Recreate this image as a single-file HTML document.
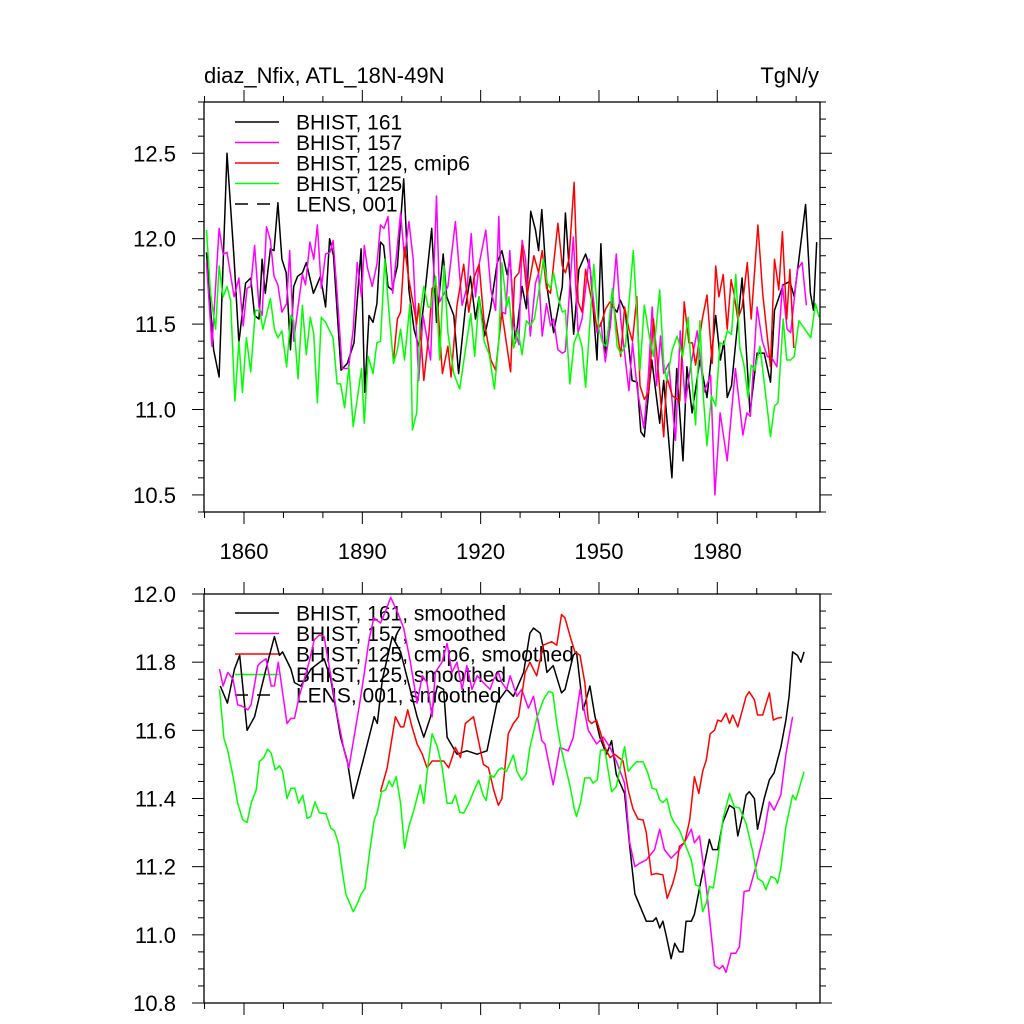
<!DOCTYPE html>
<html><head><meta charset="utf-8"><style>
html,body{margin:0;padding:0;background:#fff;}
svg{display:block;font-family:"Liberation Sans",Arial,sans-serif;}
</style></head><body>
<svg id="chart" width="1024" height="1024" viewBox="0 0 1024 1024" xmlns="http://www.w3.org/2000/svg">
<rect x="0" y="0" width="1024" height="1024" fill="#fff"/>
<text x="204" y="83" font-size="22">diaz_Nfix, ATL_18N-49N</text>
<text x="819" y="83" font-size="22" text-anchor="end">TgN/y</text>
<g id="top"></g>
<g id="bot"></g>
</svg>
<script>
// ---------- data: top panel (annual) ----------
const topBlackYears=[1850.5,1852.3,1853.7,1855.7,1857.5,1858.7,1860.4,1861.7,1862.7,1863.8,1864.6,1865.4,1866.7,1867.6,1868.6,1869.6,1870.7,1871.8,1872.6,1873.6,1874.8,1875.8,1877.6,1879.4,1880.7,1881.7,1882.7,1884.6,1886.2,1887.9,1889.7,1890.6,1891.7,1892.7,1893.7,1894.6,1895.4,1896.5,1897.5,1898.9,1900.5,1901.8,1903.1,1904.3,1905.6,1907.6,1908.8,1910.5,1911.4,1913.2,1914.4,1916.1,1917.4,1918.7,1919.6,1921.0,1922.5,1924.2,1925.4,1926.7,1927.5,1928.8,1930.5,1931.6,1932.7,1933.9,1934.7,1935.5,1936.8,1938.5,1940.7,1941.5,1943.6,1944.9,1946.6,1947.8,1949.5,1950.5,1951.6,1953.2,1954.6,1955.4,1956.7,1958.4,1959.7,1960.6,1961.5,1963.4,1965.4,1966.4,1968.5,1969.7,1971.3,1972.3,1973.6,1975.6,1977.4,1979.6,1980.8,1981.7,1982.5,1983.6,1986.3,1988.3,1990.1,1991.9,1993.5,1994.5,1996.7,1998.4,1999.5,2000.7,2002.4,2003.6,2004.4,2005.2];
const topBlackVals=[11.92,11.35,11.19,12.5,11.88,11.39,11.74,11.77,11.55,11.53,11.88,11.68,11.94,11.93,12.21,11.88,11.80,11.35,11.72,11.78,11.80,11.86,11.68,11.78,11.60,12.0,11.90,11.23,11.27,11.39,11.94,11.10,11.55,11.51,11.62,11.98,11.96,11.72,11.70,11.84,12.35,11.70,11.47,11.37,11.62,12.06,11.51,11.91,11.66,11.55,11.21,11.59,11.78,11.53,11.66,11.43,11.59,11.86,11.93,11.79,11.88,11.39,11.72,11.59,12.16,12.05,11.93,12.17,11.72,11.45,11.72,12.15,11.44,11.82,11.91,11.82,11.29,11.97,11.33,11.61,11.57,11.64,11.57,11.17,11.16,10.87,10.84,11.29,10.92,11.17,10.60,11.24,10.70,11.25,10.98,11.29,11.07,11.55,11.29,11.40,11.07,11.14,11.77,10.98,11.33,11.33,11.16,11.58,11.73,11.75,11.66,11.88,12.20,11.68,11.58,11.98];
const topMagentaYears=[1850.5,1851.9,1853.7,1854.7,1855.7,1857.5,1858.7,1859.8,1860.8,1861.7,1862.7,1863.8,1864.6,1865.7,1866.7,1867.6,1868.6,1869.6,1870.8,1871.6,1872.6,1873.7,1874.8,1875.6,1876.7,1877.7,1878.6,1879.6,1880.7,1881.8,1882.6,1883.6,1884.9,1886.5,1887.7,1888.7,1889.8,1890.5,1891.3,1892.5,1893.7,1894.6,1895.5,1896.5,1897.7,1899.7,1900.7,1901.8,1902.9,1904.3,1905.4,1907.3,1908.8,1909.6,1911.7,1913.6,1915.3,1916.6,1917.6,1918.7,1919.6,1921.3,1922.6,1923.8,1924.6,1925.4,1926.3,1927.4,1928.4,1929.7,1930.5,1931.4,1932.6,1933.9,1934.7,1935.6,1936.7,1937.7,1938.5,1939.6,1940.7,1941.5,1943.5,1944.7,1945.7,1947.5,1949.5,1950.5,1951.6,1952.9,1954.4,1955.5,1957.6,1958.5,1959.7,1961.4,1962.5,1963.5,1964.6,1965.6,1966.4,1967.7,1969.4,1970.6,1971.9,1973.2,1974.9,1976.6,1978.3,1979.4,1980.7,1982.5,1984.6,1986.5,1987.5,1988.4,1990.1,1991.4,1992.7,1993.9,1995.1,1996.5,1997.7,1998.6,2000.3,2001.5,2002.6];
const topMagentaVals=[11.86,11.37,12.06,11.91,11.92,11.66,11.77,11.49,11.71,11.72,11.96,11.60,11.55,12.07,11.99,11.78,11.73,11.57,11.62,11.93,11.40,11.60,11.79,11.73,11.98,11.88,12.08,11.71,11.91,11.92,11.99,11.68,11.24,11.24,11.47,11.86,11.66,11.96,11.83,11.72,11.85,12.08,12.06,12.13,11.68,12.15,11.89,12.10,11.88,11.17,11.55,11.29,12.25,11.63,11.72,12.10,11.61,11.72,12.03,11.66,11.85,12.05,11.70,11.58,12.13,11.57,11.56,11.93,11.49,11.38,11.99,11.88,11.43,11.74,11.80,11.43,11.62,11.49,11.53,11.35,11.33,11.34,12.01,11.45,11.53,11.88,11.45,11.51,11.28,11.49,11.91,11.53,11.11,11.39,11.12,10.89,11.19,11.60,11.14,11.43,11.21,11.27,10.82,11.46,11.04,11.25,11.46,11.10,11.20,10.50,10.98,10.70,11.24,10.85,10.98,10.96,11.60,11.40,11.31,11.30,11.25,11.73,11.47,11.45,11.82,11.86,11.61];
const topRedYears=[1897.9,1898.9,1899.7,1900.7,1901.8,1903.8,1904.3,1905.6,1906.9,1907.7,1908.8,1910.3,1911.7,1912.5,1914.0,1915.7,1917.0,1918.3,1919.6,1920.8,1922.6,1923.8,1925.4,1927.6,1928.6,1929.7,1930.5,1931.8,1933.5,1934.7,1935.6,1936.7,1937.7,1939.6,1940.7,1941.5,1942.4,1943.7,1944.7,1945.7,1946.6,1947.8,1949.5,1950.4,1951.7,1952.8,1953.8,1955.5,1956.5,1957.6,1958.5,1959.6,1960.4,1961.5,1962.6,1963.8,1964.8,1966.4,1967.2,1968.6,1970.5,1971.6,1972.8,1973.7,1974.5,1976.2,1977.4,1978.7,1979.6,1980.4,1981.5,1982.5,1983.5,1984.2,1985.2,1986.3,1987.6,1988.6,1990.3,1991.5,1993.5,1994.5,1995.6,1996.5,1997.6,1998.4,1999.4];
const topRedVals=[11.29,11.53,11.57,11.95,11.76,11.50,11.62,11.17,11.45,11.71,11.72,11.21,11.37,11.19,11.61,11.85,11.57,11.77,11.85,11.53,11.29,11.23,11.57,11.22,11.77,11.80,11.96,11.67,11.90,11.80,11.93,11.71,11.68,12.09,11.84,11.80,11.88,12.33,11.63,11.57,11.82,11.68,11.48,11.49,11.59,11.63,11.60,11.31,11.60,11.47,11.40,11.66,11.14,11.06,11.10,11.53,11.29,10.84,11.19,11.08,11.05,11.63,11.39,11.39,11.26,11.53,11.67,11.27,11.84,11.66,11.79,11.47,11.76,11.68,11.53,11.60,11.86,11.53,12.08,11.68,11.25,11.88,11.70,12.04,11.53,11.82,11.36];
const topGreenYears=[1850.5,1851.5,1852.8,1853.7,1854.7,1855.7,1856.6,1857.7,1858.7,1859.6,1860.6,1861.7,1862.9,1864.0,1864.8,1866.7,1867.7,1868.6,1869.6,1870.8,1871.9,1872.6,1873.7,1874.8,1875.8,1876.8,1877.7,1878.6,1879.6,1880.7,1882.6,1883.6,1884.5,1885.5,1886.6,1887.7,1888.7,1889.8,1890.5,1891.5,1892.7,1893.7,1894.6,1895.7,1896.7,1897.9,1898.9,1899.7,1900.7,1902.1,1902.7,1903.8,1904.7,1905.6,1906.7,1907.3,1908.6,1909.6,1910.7,1911.7,1913.2,1914.7,1916.2,1917.5,1918.5,1919.6,1920.9,1922.2,1923.5,1924.6,1925.4,1926.6,1927.2,1928.4,1929.4,1930.5,1931.6,1932.6,1933.6,1934.7,1935.9,1936.9,1937.7,1938.5,1939.6,1940.7,1941.5,1942.6,1943.7,1944.7,1945.7,1946.6,1948.7,1949.9,1950.9,1951.9,1953.4,1954.6,1955.5,1956.7,1958.7,1960.4,1961.5,1962.6,1963.8,1965.4,1966.4,1967.2,1968.6,1969.8,1971.2,1972.6,1973.5,1974.5,1975.6,1976.5,1977.4,1978.5,1979.6,1980.7,1981.7,1982.5,1983.6,1984.7,1985.7,1986.7,1987.8,1988.6,1989.5,1990.8,1992.7,1993.5,1994.5,1995.4,1996.7,1997.6,1998.6,1999.5,2000.7,2003.7,2004.9,2005.8];
const topGreenVals=[12.05,11.68,11.47,11.84,11.66,11.72,11.64,11.05,11.40,11.10,11.42,11.22,11.58,11.58,11.47,11.65,11.47,11.42,11.46,11.25,11.55,11.52,11.18,11.61,11.32,11.54,11.44,11.04,11.54,11.51,11.42,11.15,11.15,11.01,11.25,10.90,11.06,11.24,10.92,11.31,11.21,11.39,11.40,11.88,11.59,11.27,11.35,11.47,11.29,11.62,10.88,10.98,11.57,11.72,11.60,11.60,11.78,11.29,11.84,11.45,11.21,11.12,11.36,11.56,11.31,11.66,11.40,11.32,11.12,11.40,11.86,11.60,11.66,11.36,11.47,11.32,11.52,11.49,11.53,11.68,11.88,11.74,11.71,11.80,11.66,11.57,11.58,11.15,11.39,11.45,11.37,11.13,11.85,11.48,11.39,11.37,11.71,11.37,11.33,11.37,11.93,11.23,11.61,11.45,11.31,11.70,11.27,11.17,11.35,11.43,11.31,11.54,11.19,10.91,11.52,11.06,10.79,11.08,11.02,11.39,11.38,11.46,11.44,11.79,11.36,11.27,11.07,11.26,11.23,11.37,11.00,10.84,11.02,11.04,11.53,11.29,11.29,11.31,11.52,11.42,11.62,11.54];
// ---------- data: bottom panel (smoothed) ----------
const botBlackYears=[1854.0,1855.8,1857.6,1858.9,1860.8,1862.7,1864.3,1866.0,1867.7,1869.0,1869.8,1871.9,1872.8,1874.4,1877.0,1880.3,1882.0,1884.5,1886.2,1887.7,1890.4,1893.0,1893.8,1895.1,1897.6,1899.7,1903.9,1905.6,1907.3,1909.0,1910.6,1911.5,1914.0,1916.5,1919.1,1921.6,1924.1,1926.6,1928.3,1930.9,1932.5,1933.4,1935.1,1935.9,1936.8,1938.4,1940.5,1941.4,1943.5,1944.3,1946.0,1947.7,1949.0,1950.2,1951.9,1953.2,1954.4,1956.5,1957.8,1959.1,1962.0,1963.7,1964.5,1965.4,1966.2,1967.1,1968.3,1969.2,1970.4,1971.3,1972.1,1973.4,1974.2,1975.9,1978.0,1978.8,1980.1,1981.4,1983.1,1984.3,1985.2,1986.4,1987.3,1988.1,1989.4,1990.2,1991.9,1993.2,1994.4,1996.1,1997.4,1998.2,1999.1,2000.3,2001.2,2002.0];
const botBlackVals=[11.73,11.68,11.78,11.82,11.60,11.64,11.72,11.80,11.875,11.82,11.83,11.78,11.74,11.73,11.78,11.81,11.75,11.58,11.51,11.40,11.52,11.64,11.62,11.75,11.875,11.83,11.64,11.58,11.64,11.73,11.72,11.58,11.53,11.54,11.53,11.54,11.68,11.72,11.70,11.77,11.885,11.90,11.885,11.84,11.77,11.79,11.71,11.72,11.82,11.83,11.66,11.73,11.64,11.58,11.53,11.57,11.47,11.415,11.26,11.12,11.04,11.04,11.05,11.02,11.04,10.995,10.93,10.975,10.95,10.95,11.04,11.04,11.06,11.16,11.28,11.25,11.25,11.33,11.38,11.37,11.29,11.35,11.41,11.42,11.40,11.31,11.40,11.455,11.475,11.55,11.63,11.70,11.83,11.82,11.80,11.83];
const botMagentaYears=[1853.8,1854.7,1855.9,1857.2,1858.4,1859.7,1861.0,1861.8,1863.5,1864.3,1865.6,1866.9,1867.7,1868.7,1870.9,1871.9,1872.8,1874.0,1875.3,1876.5,1877.8,1879.1,1880.3,1882.0,1883.7,1885.4,1886.6,1887.9,1889.2,1890.4,1891.7,1892.9,1894.6,1895.9,1897.2,1898.8,1900.5,1902.2,1903.9,1905.2,1906.4,1907.7,1908.5,1910.2,1911.5,1912.7,1914.0,1915.3,1916.5,1917.8,1919.1,1920.7,1922.4,1923.3,1924.5,1925.4,1926.6,1927.5,1929.2,1930.4,1932.1,1933.4,1935.5,1936.3,1938.4,1940.1,1942.2,1943.5,1945.2,1947.3,1949.4,1951.1,1952.8,1954.4,1956.5,1957.8,1959.1,1960.3,1962.0,1964.1,1965.4,1966.6,1968.3,1970.4,1972.1,1973.4,1974.2,1975.5,1977.2,1979.3,1980.5,1981.4,1982.2,1983.5,1984.7,1985.6,1986.8,1988.1,1989.8,1991.9,1993.2,1994.4,1996.1,1997.4,1999.1];
const botMagentaVals=[11.78,11.73,11.77,11.75,11.675,11.67,11.66,11.675,11.79,11.80,11.81,11.73,11.73,11.80,11.62,11.635,11.635,11.70,11.75,11.80,11.865,11.88,11.875,11.76,11.64,11.54,11.49,11.58,11.67,11.76,11.865,11.93,11.915,11.95,11.99,11.95,11.90,11.80,11.68,11.76,11.74,11.64,11.77,11.80,11.855,11.77,11.80,11.72,11.79,11.72,11.76,11.74,11.72,11.75,11.77,11.74,11.72,11.76,11.70,11.72,11.665,11.70,11.57,11.56,11.44,11.55,11.54,11.58,11.72,11.60,11.56,11.58,11.55,11.51,11.445,11.27,11.20,11.21,11.22,11.25,11.31,11.25,11.225,11.25,11.28,11.31,11.27,11.29,11.14,10.91,10.90,10.91,10.89,10.946,10.946,10.965,11.127,11.13,11.20,11.30,11.39,11.366,11.41,11.53,11.64];
const botRedYears=[1894.6,1896.3,1898.4,1899.7,1900.5,1901.5,1902.6,1903.9,1905.2,1906.4,1907.7,1910.6,1911.9,1913.6,1914.9,1916.1,1918.2,1920.7,1922.0,1923.3,1924.5,1925.4,1927.0,1928.3,1929.6,1931.3,1932.5,1934.2,1935.9,1938.0,1939.3,1940.5,1941.4,1942.7,1943.9,1945.2,1946.4,1947.3,1948.1,1949.4,1951.5,1952.8,1954.0,1956.1,1957.4,1958.6,1959.9,1961.2,1962.0,1963.3,1964.5,1966.2,1967.3,1968.7,1969.6,1970.4,1971.7,1973.0,1974.2,1975.3,1976.3,1977.2,1978.2,1979.3,1980.1,1981.0,1982.2,1983.1,1983.9,1985.2,1987.3,1988.1,1989.4,1990.2,1991.5,1993.2,1994.2,1995.3,1996.4];
const botRedVals=[11.42,11.49,11.64,11.61,11.61,11.66,11.61,11.56,11.53,11.49,11.51,11.51,11.49,11.55,11.52,11.62,11.64,11.50,11.49,11.425,11.38,11.40,11.59,11.62,11.64,11.77,11.80,11.76,11.85,11.86,11.85,11.94,11.93,11.875,11.83,11.82,11.74,11.63,11.62,11.63,11.55,11.52,11.53,11.51,11.425,11.37,11.34,11.337,11.30,11.176,11.18,11.176,11.107,11.15,11.19,11.26,11.27,11.337,11.464,11.415,11.48,11.513,11.59,11.60,11.63,11.626,11.65,11.62,11.645,11.61,11.70,11.713,11.69,11.645,11.645,11.71,11.63,11.636,11.638];
const botGreenYears=[1853.8,1854.9,1855.9,1857.2,1858.4,1859.7,1860.8,1861.8,1863.1,1863.9,1865.0,1866.0,1866.9,1867.9,1869.0,1869.8,1870.9,1871.9,1872.9,1873.9,1874.9,1876.0,1876.9,1878.0,1879.1,1880.8,1882.0,1882.9,1883.9,1885.0,1885.8,1886.6,1887.7,1888.8,1889.6,1890.7,1891.7,1893.0,1893.8,1894.9,1895.9,1896.8,1897.6,1898.6,1899.7,1900.7,1901.8,1903.1,1904.7,1905.6,1906.6,1907.7,1909.0,1910.2,1911.5,1912.7,1913.6,1914.7,1915.7,1917.0,1918.2,1919.5,1920.6,1921.4,1922.4,1923.3,1924.5,1925.4,1926.5,1928.3,1929.2,1930.4,1931.5,1932.5,1934.2,1935.9,1937.2,1938.3,1939.3,1940.3,1941.4,1942.7,1943.7,1944.3,1945.3,1946.4,1947.7,1948.5,1949.6,1950.4,1951.5,1953.2,1954.4,1956.5,1957.4,1959.5,1961.2,1962.4,1963.5,1964.5,1965.4,1966.2,1967.2,1968.3,1969.2,1970.4,1971.7,1973.4,1974.5,1975.5,1976.3,1977.2,1978.0,1979.0,1980.1,1981.4,1983.1,1984.3,1985.6,1987.3,1989.0,1990.2,1991.5,1992.3,1993.6,1994.7,1995.3,1996.1,1997.4,1999.1,1999.9,2002.0];
const botGreenVals=[11.72,11.577,11.54,11.465,11.386,11.337,11.33,11.386,11.425,11.508,11.52,11.545,11.533,11.484,11.496,11.48,11.40,11.43,11.43,11.386,11.41,11.342,11.347,11.39,11.358,11.355,11.313,11.306,11.27,11.18,11.12,11.098,11.068,11.093,11.117,11.137,11.23,11.337,11.36,11.42,11.425,11.452,11.435,11.464,11.386,11.254,11.318,11.367,11.44,11.386,11.494,11.59,11.552,11.494,11.386,11.386,11.41,11.36,11.357,11.386,11.42,11.454,11.41,11.394,11.47,11.462,11.484,11.49,11.479,11.528,11.48,11.454,11.47,11.55,11.635,11.69,11.714,11.71,11.62,11.552,11.498,11.435,11.372,11.347,11.386,11.46,11.461,11.445,11.455,11.542,11.542,11.42,11.435,11.552,11.48,11.508,11.508,11.474,11.43,11.427,11.396,11.388,11.40,11.347,11.327,11.308,11.269,11.22,11.146,11.142,11.068,11.093,11.142,11.137,11.22,11.337,11.415,11.376,11.372,11.327,11.244,11.166,11.156,11.132,11.171,11.166,11.151,11.195,11.318,11.41,11.396,11.479];
// ---------- ticks / labels ----------
const xMajorTicks=[1860,1890,1920,1950,1980];
const xMinorTicks=[1850,1870,1880,1900,1910,1930,1940,1960,1970,1990,2000];
const topYTicks=["10.5","11.0","11.5","12.0","12.5"];
const botYTicks=["10.8","11.0","11.2","11.4","11.6","11.8","12.0"];
const topLegend=["BHIST, 161","BHIST, 157","BHIST, 125, cmip6","BHIST, 125","LENS, 001"];
const botLegend=["BHIST, 161, smoothed","BHIST, 157, smoothed","BHIST, 125, cmip6, smoothed","BHIST, 125, smoothed","LENS, 001, smoothed"];
const legendColors=["#000","#ff00ff","#ff0000","#00ff00","#000"];

const NS="http://www.w3.org/2000/svg";
const X0=204,X1=820,XMIN=1849.86,XMAX=2006.04;
function xs(y){return X0+(y-XMIN)/(XMAX-XMIN)*(X1-X0);}
function mk(tag,parent,attrs){const e=document.createElementNS(NS,tag);for(const k in attrs)e.setAttribute(k,attrs[k]);parent.appendChild(e);return e;}

function panel(g,top,bot,vmin,vmax,yMajor,yMinorStep,labels,legend,legY,series,showX){
  const ys=v=>bot-(v-vmin)/(vmax-vmin)*(bot-top);
  // legend (drawn beneath data)
  legend.forEach((t,i)=>{
    const y=legY+i*20.5;
    const ln=mk('line',g,{x1:235,x2:279,y1:y,y2:y,stroke:legendColors[i],'stroke-width':1.4});
    if(i===4)ln.setAttribute('stroke-dasharray','13,9');
    
    
    const tx=mk('text',g,{x:296,y:y+7.5,'font-size':21});
    tx.textContent=t;
    
    
  });
  // series
  series.forEach(s=>{
    const pts=s.years.map((yr,i)=>xs(yr).toFixed(1)+','+ys(s.vals[i]).toFixed(1)).join(' ');
    const pl=mk('polyline',g,{points:pts,fill:'none',stroke:s.color,'stroke-width':1.5,'stroke-linejoin':'round'});
    
    
  });
  // frame
  const fr=mk('rect',g,{x:X0,y:top,width:X1-X0,height:bot-top,fill:'none',stroke:'#000','stroke-width':1.3});
  
  
  // y ticks
  for(let v=vmin;v<=vmax+1e-9;v+=yMinorStep){
    const y=ys(v);
    const isMaj=yMajor.some(t=>Math.abs(parseFloat(t)-v)<1e-6);
    const L=isMaj?12:6;
    mk('line',g,{x1:X0-L,x2:X0,y1:y,y2:y,stroke:'#000','stroke-width':1});
    mk('line',g,{x1:X1,x2:X1+L,y1:y,y2:y,stroke:'#000','stroke-width':1});
  }
  labels.forEach(t=>{
    const tx=mk('text',g,{x:176,y:ys(parseFloat(t))+8,'font-size':22,'text-anchor':'end'});
    tx.textContent=t;
    
    
  });
  // x ticks
  xMajorTicks.forEach(yr=>{const x=xs(yr);
    mk('line',g,{x1:x,x2:x,y1:top-12,y2:top,stroke:'#000','stroke-width':1});
    mk('line',g,{x1:x,x2:x,y1:bot,y2:bot+12,stroke:'#000','stroke-width':1});
    if(showX){const tx=mk('text',g,{x:x,y:bot+47,'font-size':22,'text-anchor':'middle'});tx.textContent=String(yr);
      
      }
  });
  xMinorTicks.forEach(yr=>{const x=xs(yr);
    mk('line',g,{x1:x,x2:x,y1:top-6,y2:top,stroke:'#000','stroke-width':1});
    mk('line',g,{x1:x,x2:x,y1:bot,y2:bot+6,stroke:'#000','stroke-width':1});
  });
}
panel(document.getElementById('top'),102,512,10.4,12.8,topYTicks,0.1,topYTicks,topLegend,122,[
 {name:'series-bhist-161',color:'#000',years:topBlackYears,vals:topBlackVals},
 {name:'series-bhist-157',color:'#ff00ff',years:topMagentaYears,vals:topMagentaVals},
 {name:'series-bhist-125-cmip6',color:'#ff0000',years:topRedYears,vals:topRedVals},
 {name:'series-bhist-125',color:'#00ff00',years:topGreenYears,vals:topGreenVals}],true);
panel(document.getElementById('bot'),594,1003,10.8,12.0,botYTicks,0.05,botYTicks,botLegend,613,[
 {name:'smoothed-bhist-161',color:'#000',years:botBlackYears,vals:botBlackVals},
 {name:'smoothed-bhist-157',color:'#ff00ff',years:botMagentaYears,vals:botMagentaVals},
 {name:'smoothed-bhist-125-cmip6',color:'#ff0000',years:botRedYears,vals:botRedVals},
 {name:'smoothed-bhist-125',color:'#00ff00',years:botGreenYears,vals:botGreenVals}],false);
</script>
</body></html>
